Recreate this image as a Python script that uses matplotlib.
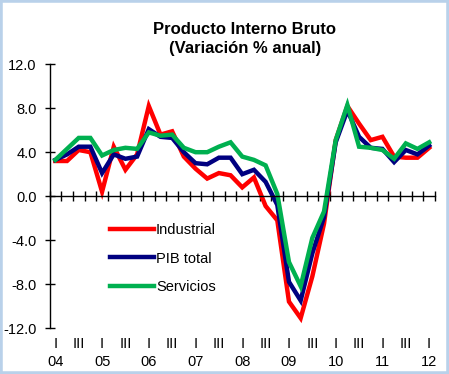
import matplotlib

matplotlib.use("Agg")
import matplotlib.pyplot as plt
from matplotlib.patches import Rectangle

plt.rcParams["font.family"] = ["Liberation Sans", "DejaVu Sans"]

# quarterly data, 2004 Q1 .. 2012 Q1
industrial = [3.2, 3.2, 4.2, 4.0, 0.4, 4.5, 2.4, 3.8, 8.2, 5.6, 5.9, 3.6, 2.5,
              1.6, 2.1, 1.9, 0.8, 1.7, -0.9, -2.2, -9.6, -11.1, -7.3, -2.5,
              5.1, 8.2, 6.6, 5.1, 5.4, 3.6, 3.5, 3.5, 4.4]
pib_total = [3.3, 3.8, 4.5, 4.5, 2.1, 3.8, 3.4, 3.6, 6.1, 5.4, 5.3, 4.0, 3.0,
             2.9, 3.5, 3.5, 2.0, 2.4, 1.3, -0.8, -7.8, -9.5, -5.2, -1.9,
             4.9, 7.8, 5.4, 4.4, 4.3, 3.1, 4.2, 3.8, 4.6]
servicios = [3.3, 4.3, 5.3, 5.3, 3.7, 4.2, 4.4, 4.3, 5.8, 5.5, 5.6, 4.4, 4.0,
             4.0, 4.5, 4.9, 3.6, 3.3, 2.8, 0.2, -6.0, -8.2, -3.8, -1.4,
             5.1, 8.3, 4.5, 4.4, 4.2, 3.4, 4.8, 4.3, 4.9]
years = ["04", "05", "06", "07", "08", "09", "10", "11", "12"]
quarter_names = {0: "I", 2: "III"}
yticks = [12, 8, 4, 0, -4, -8, -12]

W, H = 449, 374
fig = plt.figure(figsize=(W / 100, H / 100), dpi=100)
fig.patches.append(Rectangle((0, 0), 1, 1, transform=fig.transFigure,
                             facecolor="none", edgecolor="#b9d1ea", linewidth=4))

ax = fig.add_axes([49.5 / W, 1 - 328 / H, (435 - 49.5) / W, (328 - 64.3) / H])
x = list(range(len(pib_total)))
series = [("Industrial", industrial, "#ff0000"),
          ("PIB total", pib_total, "#000080"),
          ("Servicios", servicios, "#00b050")]
for name, vals, color in series:
    ax.plot(x, vals, color=color, lw=3.2, label=name, solid_joinstyle="miter")

ax.set_xlim(-0.5, len(x) - 0.5)
ax.set_ylim(-12, 12)
ax.set_yticks(yticks)
ax.set_yticklabels([f"{v:.1f}" for v in yticks])
ax.set_xticks([i - 0.5 for i in range(len(x) + 1)])
ax.set_xticklabels([])
for side in ("top", "right"):
    ax.spines[side].set_visible(False)
ax.spines["bottom"].set_position(("data", 0))
ax.spines["left"].set_linewidth(1)
ax.spines["bottom"].set_linewidth(1)
ax.tick_params(axis="y", direction="inout", length=6.5, width=1, pad=6,
               labelsize=10.5)
ax.tick_params(axis="x", direction="inout", length=7, width=1)

# quarter and year labels below the plot
for i in x:
    q = i % 4
    if q in quarter_names:
        ax.text(i, -13.5, quarter_names[q], ha="center", va="center",
                fontsize=10.5, clip_on=False)
    if q == 0:
        ax.text(i, -15.1, years[i // 4], ha="center", va="center",
                fontsize=10.5, clip_on=False)

fig.text(245 / W, 1 - 29 / H, "Producto Interno Bruto", ha="center",
         va="center", fontsize=12, fontweight="bold")
fig.text(245 / W, 1 - 48 / H, "(Variación % anual)", ha="center",
         va="center", fontsize=12, fontweight="bold")

ax.legend(loc="upper left", bbox_to_anchor=(110 / W, 1 - 223 / H),
          bbox_transform=fig.transFigure, frameon=False, fontsize=10.5,
          handlelength=3.0, handletextpad=0.15, labelspacing=1.0,
          borderpad=0, borderaxespad=0)

fig.savefig("out.png", dpi=100)
